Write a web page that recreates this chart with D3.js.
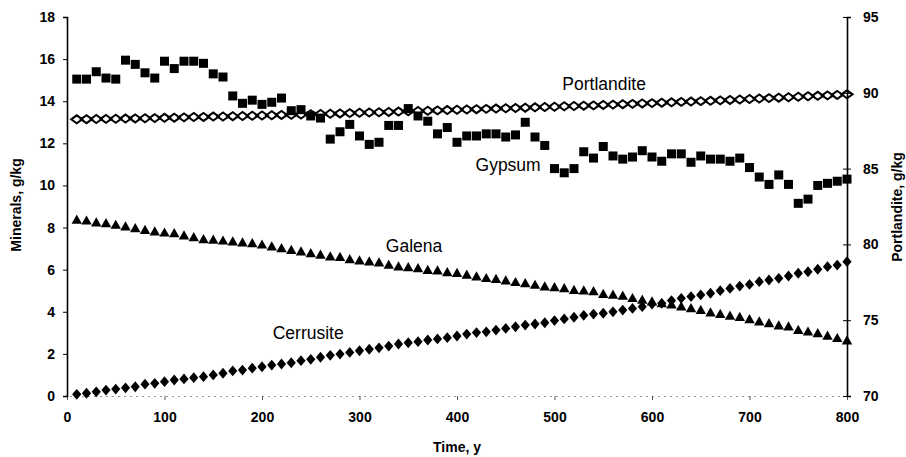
<!DOCTYPE html>
<html>
<head>
<meta charset="utf-8">
<script src="https://cdn.jsdelivr.net/npm/d3@7"></script>
<style>
  html, body { margin: 0; padding: 0; background: #fff; }
  svg { display: block; }
  text { font-family: "Liberation Sans", Arial, Helvetica, sans-serif; fill: #000; }
</style>
</head>
<body>
<svg id="chart" width="906" height="457"></svg>
<script>
// ---------- data ----------
const years = [10,20,30,40,50,60,70,80,90,100,110,120,130,140,150,160,170,180,190,200,
  210,220,230,240,250,260,270,280,290,300,310,320,330,340,350,360,370,380,390,400,
  410,420,430,440,450,460,470,480,490,500,510,520,530,540,550,560,570,580,590,600,
  610,620,630,640,650,660,670,680,690,700,710,720,730,740,750,760,770,780,790,800];

const gypsum = [15.05,15.05,15.4,15.1,15.05,15.95,15.75,15.35,15.1,15.9,15.55,15.9,15.9,15.8,15.3,15.15,14.25,13.9,14.05,13.85,
  13.95,14.15,13.55,13.6,13.3,13.2,12.2,12.55,12.9,12.35,11.95,12.05,12.85,12.85,13.65,13.3,13.05,12.45,12.75,12.05,
  12.35,12.35,12.45,12.45,12.3,12.4,13.0,12.3,11.9,10.8,10.6,10.8,11.6,11.3,11.85,11.4,11.25,11.35,11.65,11.35,
  11.15,11.5,11.5,11.1,11.4,11.25,11.25,11.15,11.3,10.85,10.4,10.05,10.5,10.05,9.15,9.35,10.0,10.1,10.2,10.3];

const galena = [8.36,8.32,8.23,8.2,8.12,8.04,7.96,7.88,7.8,7.75,7.72,7.61,7.53,7.44,7.41,7.37,7.33,7.28,7.25,7.18,
  7.09,7.01,6.93,6.85,6.77,6.7,6.62,6.59,6.49,6.43,6.38,6.33,6.22,6.14,6.11,6.06,5.98,5.95,5.87,5.83,
  5.75,5.67,5.59,5.55,5.48,5.4,5.35,5.27,5.19,5.16,5.11,5.03,5.0,4.97,4.84,4.8,4.75,4.64,4.56,4.48,
  4.4,4.34,4.24,4.16,4.08,3.96,3.89,3.8,3.74,3.64,3.53,3.45,3.34,3.29,3.13,3.05,2.97,2.85,2.74,2.63];

const cerrusite = [0.08,0.13,0.2,0.28,0.33,0.39,0.44,0.56,0.6,0.68,0.76,0.81,0.87,0.92,1.0,1.08,1.19,1.23,1.32,1.39,
  1.47,1.52,1.58,1.68,1.74,1.84,1.93,1.99,2.07,2.15,2.22,2.29,2.37,2.47,2.53,2.58,2.66,2.71,2.77,2.85,
  2.94,3.01,3.05,3.13,3.21,3.29,3.37,3.42,3.48,3.58,3.66,3.74,3.83,3.89,3.93,4.0,4.08,4.16,4.24,4.37,
  4.4,4.53,4.64,4.72,4.8,4.88,5.0,5.11,5.22,5.3,5.43,5.51,5.59,5.7,5.83,5.9,6.02,6.14,6.22,6.38];

// Portlandite is on the right axis
const portlandite = [88.25,88.26,88.27,88.28,88.29,88.30,88.31,88.32,88.33,88.35,88.36,88.38,88.40,88.41,88.43,88.44,88.46,88.47,88.49,88.50,
  88.52,88.54,88.55,88.57,88.59,88.60,88.62,88.64,88.66,88.68,88.70,88.72,88.74,88.76,88.78,88.80,88.82,88.84,88.86,88.88,
  88.90,88.92,88.94,88.96,88.98,89.00,89.02,89.04,89.06,89.08,89.11,89.13,89.15,89.17,89.20,89.22,89.25,89.27,89.30,89.32,
  89.35,89.37,89.40,89.42,89.45,89.47,89.50,89.53,89.56,89.59,89.62,89.65,89.68,89.71,89.74,89.77,89.80,89.83,89.86,89.90];

const xTicks = [0,100,200,300,400,500,600,700,800];
const yLeftTicks = [0,2,4,6,8,10,12,14,16,18];
const yRightTicks = [70,75,80,85,90,95];

const seriesLabels = [
  {name: "Portlandite", t: 508, v: 14.75},
  {name: "Gypsum", t: 419, v: 10.9},
  {name: "Galena", t: 327, v: 7.05},
  {name: "Cerrusite", t: 211, v: 2.95}
];

// ---------- chart ----------
const svg = d3.select("#chart");
const x = d3.scaleLinear().domain([0, 800]).range([67, 847]);
const yL = d3.scaleLinear().domain([0, 18]).range([396, 17]);
const yR = d3.scaleLinear().domain([70, 95]).range([396, 17]);

const tickFont = g => g.selectAll(".tick text").attr("font-size", 14).attr("font-weight", "bold")
  .attr("font-family", "Liberation Sans, Arial, sans-serif").attr("fill", "#000");

// bottom axis (faint baseline)
const gx = svg.append("g").attr("transform", "translate(0,396)")
  .call(d3.axisBottom(x).tickValues(xTicks).tickSize(4).tickPadding(12));
gx.select(".domain").attr("stroke", "#999").attr("stroke-width", 1).attr("stroke-dasharray", "2,4");
gx.selectAll(".tick line").attr("stroke", "#555");
tickFont(gx);

// left axis
const gl = svg.append("g").attr("transform", "translate(67,0)")
  .call(d3.axisLeft(yL).tickValues(yLeftTicks).tickSize(4).tickPadding(8));
gl.select(".domain").attr("stroke", "#000").attr("stroke-width", 1.6);
gl.selectAll(".tick line").attr("stroke", "#000");
tickFont(gl);

// right axis
const gr = svg.append("g").attr("transform", "translate(847,0)")
  .call(d3.axisRight(yR).tickValues(yRightTicks).tickSize(4).tickPadding(12));
gr.select(".domain").attr("stroke", "#000").attr("stroke-width", 1.6);
gr.selectAll(".tick line").attr("stroke", "#000").attr("x1", -4);
tickFont(gr);

// axis titles
svg.append("text").attr("transform", "translate(21,205) rotate(-90)")
  .attr("text-anchor", "middle").attr("font-size", 14).attr("font-weight", "bold")
  .text("Minerals, g/kg");
svg.append("text").attr("transform", "translate(902,207) rotate(-90)")
  .attr("text-anchor", "middle").attr("font-size", 14).attr("font-weight", "bold")
  .text("Portlandite, g/kg");
svg.append("text").attr("x", 457).attr("y", 452)
  .attr("text-anchor", "middle").attr("font-size", 14).attr("font-weight", "bold")
  .text("Time, y");

// Portlandite: hollow diamonds chained
const portPath = "M-5.6,0 L0,-4 L5.6,0 L0,4 Z";
svg.append("g").selectAll("path").data(years).join("path")
  .attr("transform", (d, i) => `translate(${x(d)},${yR(portlandite[i])})`)
  .attr("d", portPath).attr("fill", "none").attr("stroke", "#000").attr("stroke-width", 2);

// Gypsum: filled squares
svg.append("g").selectAll("rect").data(years).join("rect")
  .attr("x", d => x(d) - 4.5).attr("y", (d, i) => yL(gypsum[i]) - 4.5)
  .attr("width", 9).attr("height", 9).attr("fill", "#000");

// Galena: filled triangles
svg.append("g").selectAll("path").data(years).join("path")
  .attr("transform", (d, i) => `translate(${x(d)},${yL(galena[i])})`)
  .attr("d", "M0,-5.4 L5.2,3.8 L-5.2,3.8 Z").attr("fill", "#000");

// Cerrusite: filled diamonds
svg.append("g").selectAll("path").data(years).join("path")
  .attr("transform", (d, i) => `translate(${x(d)},${yL(cerrusite[i])})`)
  .attr("d", "M0,-5.4 L4.6,0 L0,5.4 L-4.6,0 Z").attr("fill", "#000");

// series labels
svg.append("g").selectAll("text").data(seriesLabels).join("text")
  .attr("x", d => x(d.t)).attr("y", d => yL(d.v))
  .attr("font-size", 17.5).attr("dominant-baseline", "middle")
  .text(d => d.name);
</script>
</body>
</html>
